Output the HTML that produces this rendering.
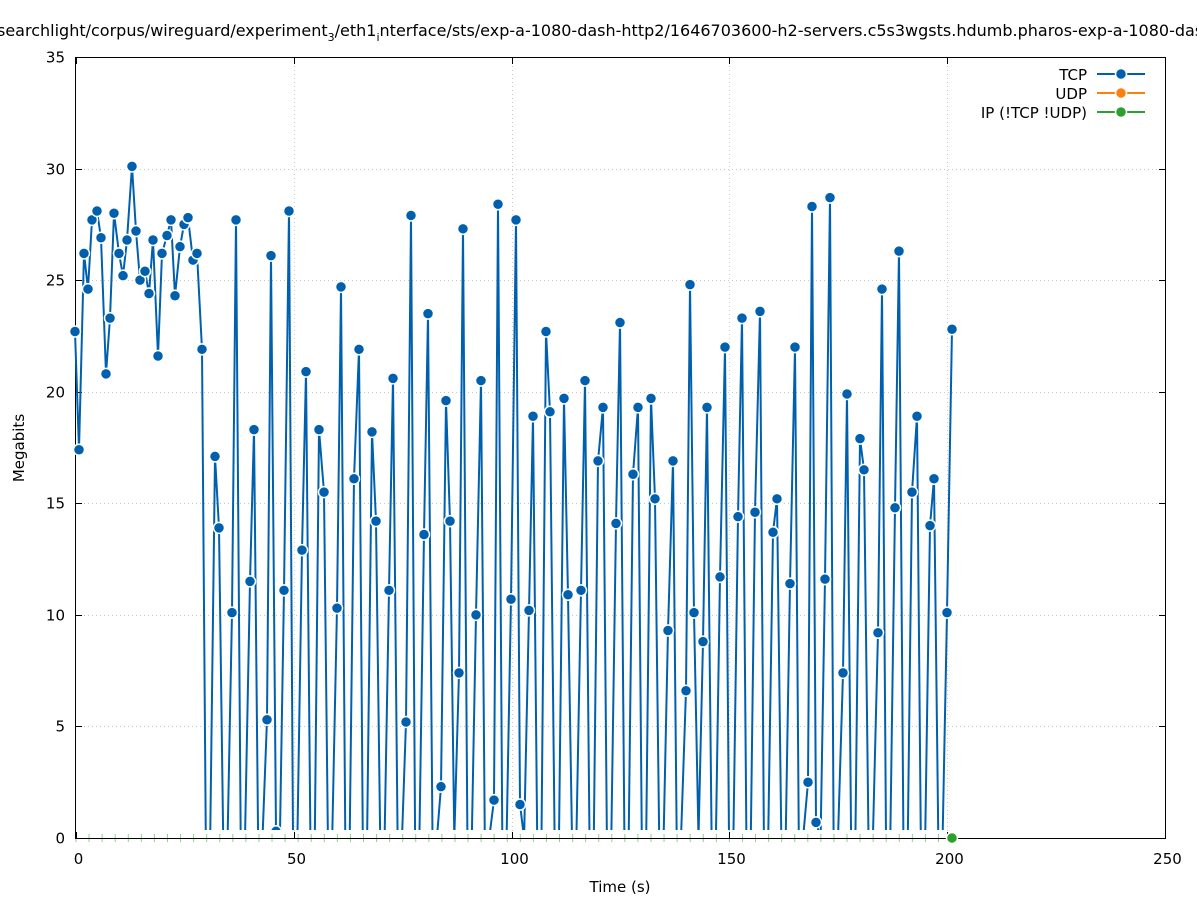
<!DOCTYPE html>
<html><head><meta charset="utf-8"><style>
html,body{margin:0;padding:0;background:#fff;}
svg{display:block;font-family:"DejaVu Sans","Liberation Sans",sans-serif;}
</style></head><body>
<svg id="s" width="1197" height="900" xmlns="http://www.w3.org/2000/svg">
<defs><clipPath id="cp"><rect x="60" y="40" width="1110" height="790"/></clipPath></defs>
<rect width="1197" height="900" fill="#fff"/>
<g id="grid" stroke="#c8c8c8" stroke-width="1" stroke-dasharray="1,3"></g>
<g id="gt" stroke="#8fd08f" stroke-width="1"></g>
<rect x="75.5" y="57.5" width="1090" height="781" fill="none" stroke="#000" stroke-width="1"/>
<g id="ticks" stroke="#000" stroke-width="1"></g>
<g id="labels" font-size="15" fill="#000"></g>
<text x="-3" y="36" font-size="16">searchlight/corpus/wireguard/experiment<tspan font-size="11" dy="5">3</tspan><tspan dy="-5">/eth1</tspan><tspan font-size="11" dy="5">i</tspan><tspan dy="-5">nterface/sts/exp-a-1080-dash-http2/1646703600-h2-servers.c5s3wgsts.hdumb.pharos-exp-a-1080-dash</tspan></text>
<text x="620" y="892" font-size="15" text-anchor="middle">Time (s)</text>
<text transform="translate(24,448) rotate(-90)" font-size="15" text-anchor="middle">Megabits</text>
<g clip-path="url(#cp)">
<polyline id="tcp" fill="none" stroke="#0060ad" stroke-width="2"/>
<g id="pts"></g>
</g>
<circle cx="952" cy="838" r="5.5" fill="#2ca02c" stroke="#fff" stroke-width="1.5"/>
<g font-size="15" text-anchor="end">
<text x="1087" y="80">TCP</text>
<text x="1087" y="99">UDP</text>
<text x="1087" y="118">IP (!TCP  !UDP)</text>
</g>
<line x1="1097" y1="74" x2="1145" y2="74" stroke="#0060ad" stroke-width="2"/>
<circle cx="1121" cy="74" r="5.5" fill="#0060ad" stroke="#fff" stroke-width="1.5"/>
<line x1="1097" y1="93" x2="1145" y2="93" stroke="#ff7f0e" stroke-width="2"/>
<circle cx="1121" cy="93" r="5.5" fill="#ff7f0e" stroke="#fff" stroke-width="1.5"/>
<line x1="1097" y1="112" x2="1145" y2="112" stroke="#2ca02c" stroke-width="2"/>
<circle cx="1121" cy="112" r="5.5" fill="#2ca02c" stroke="#fff" stroke-width="1.5"/>
</svg>
<script>
var NS="http://www.w3.org/2000/svg";
function el(p,t,a,txt){var e=document.createElementNS(NS,t);for(var k in a)e.setAttribute(k,a[k]);if(txt!=null)e.textContent=txt;document.getElementById(p).appendChild(e);return e;}
var X0=76,SX=4.356,Y0=838,SY=22.314;
for(var v=0;v<=35;v+=5){var y=Y0-v*SY;y=Math.round(y)+0.5;
 if(v>0&&v<35)el("grid","line",{x1:76,y1:y,x2:1165,y2:y});
 el("ticks","line",{x1:76,y1:y,x2:82,y2:y});el("ticks","line",{x1:1159,y1:y,x2:1165,y2:y});
 el("labels","text",{x:65,y:y+5,"text-anchor":"end"},v);}
for(var t=0;t<=250;t+=50){var x=Math.round(X0+t*SX)+0.5;
 if(t>0&&t<250)el("grid","line",{x1:x,y1:58,x2:x,y2:838});
 el("ticks","line",{x1:x,y1:838,x2:x,y2:832});el("ticks","line",{x1:x,y1:58,x2:x,y2:64});
 el("labels","text",{x:x+2,y:864,"text-anchor":"middle"},t);}
for(var t=0;t<=200;t+=3){var x=X0+t*SX;el("gt","line",{x1:x,y1:834,x2:x,y2:842});}
var L=[[75,22.7],[79,17.4],[84,26.2],[88,24.6],[92,27.7],[97,28.1],[101,26.9],[106,20.8],[110,23.3],[114,28.0],[119,26.2],[123,25.2],[127,26.8],[132,30.1],[136,27.2],[140,25.0],[145,25.4],[149,24.4],[153,26.8],[158,21.6],[162,26.2],[167,27.0],[171,27.7],[175,24.3],[180,26.5],[184,27.5],[188,27.8],[193,25.9],[197,26.2],[202,21.9],
[215,17.1],[219,13.9],[232,10.1],[236,27.7],[250,11.5],[254,18.3],[267,5.3],[271,26.1],[276,0.3],[284,11.1],[289,28.1],[302,12.9],[306,20.9],[319,18.3],[324,15.5],[337,10.3],[341,24.7],[354,16.1],[359,21.9],[372,18.2],[376,14.2],[389,11.1],[393,20.6],[406,5.2],[411,27.9],[424,13.6],[428,23.5],[441,2.3],[446,19.6],[450,14.2],[459,7.4],[463,27.3],[476,10.0],[481,20.5],[494,1.7],[498,28.4],[511,10.7],[516,27.7],[520,1.5],[529,10.2],[533,18.9],[546,22.7],[550,19.1],[564,19.7],[568,10.9],[581,11.1],[585,20.5],[598,16.9],[603,19.3],[616,14.1],[620,23.1],[633,16.3],[638,19.3],[651,19.7],[655,15.2],[668,9.3],[673,16.9],[686,6.6],[690,24.8],[694,10.1],[703,8.8],[707,19.3],[720,11.7],[725,22.0],[738,14.4],[742,23.3],[755,14.6],[760,23.6],[773,13.7],[777,15.2],[790,11.4],[795,22.0],[808,2.5],[812,28.3],[816,0.7],[825,11.6],[830,28.7],[843,7.4],[847,19.9],[860,17.9],[864,16.5],[878,9.2],[882,24.6],[895,14.8],[899,26.3],[912,15.5],[917,18.9],[930,14.0],[934,16.1],[947,10.1],[952,22.8]];
var pts=[];
for(var t=0;t<=201;t++){var x=75+t*4.36,v=0,bx=x,bd=2.3;
 for(var i=0;i<L.length;i++){var d=Math.abs(L[i][0]-x);if(d<bd){bd=d;v=L[i][1];bx=L[i][0];}}
 if(bd<2.3)x=bx;
 pts.push([x,Y0-v*SY]);}
document.getElementById("tcp").setAttribute("points",pts.map(function(p){return p[0].toFixed(1)+","+p[1].toFixed(1)}).join(" "));
pts.forEach(function(p){el("pts","circle",{cx:p[0],cy:p[1],r:5.5,fill:"#0060ad",stroke:"#fff","stroke-width":1.5});});
</script>
</body></html>
